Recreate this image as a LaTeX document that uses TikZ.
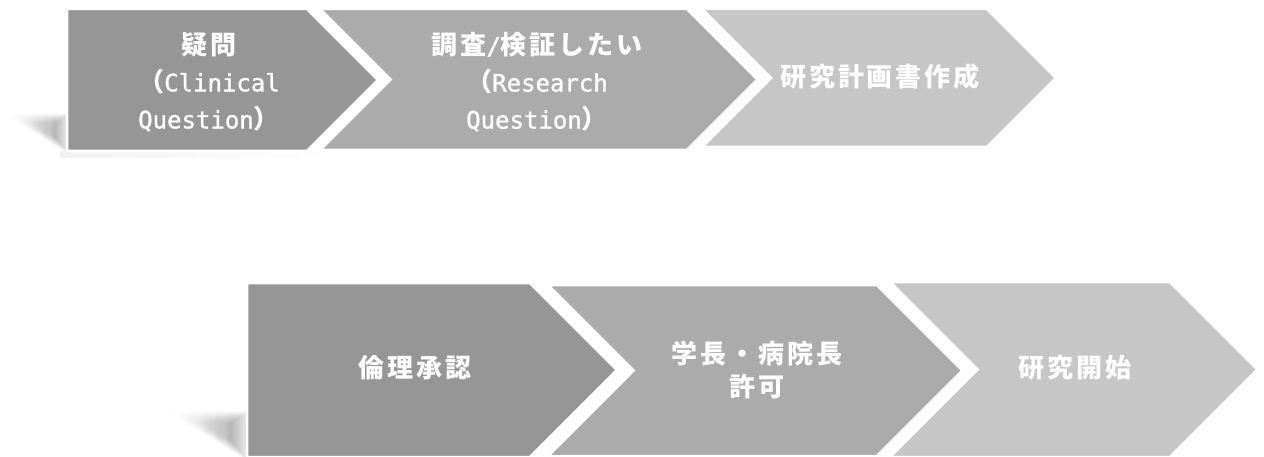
\documentclass[tikz,border=0pt]{standalone}
\usepackage{fontspec}
\usetikzlibrary{fadings}
\newfontfamily\jafont[LetterSpace=11]{Noto Sans CJK JP}
\newfontfamily\latinfont[FakeBold=1.2]{DejaVu Sans Mono}
\definecolor{chevdark}{RGB}{150,150,150}
\definecolor{chevmid}{RGB}{171,171,171}
\definecolor{chevlight}{RGB}{198,198,198}
\tikzfading[name=shadowfade, left color=transparent!100, right color=transparent!0]
\tikzfading[name=stripfade, left color=transparent!0, right color=transparent!100]
\newcommand\steptextstyle{\fontsize{26}{37}\selectfont\jafont}
\newcommand\latinpart[1]{{\fontsize{24}{37}\selectfont\mdseries\latinfont #1}}
% pentagon: left, corner, top, bottom, colour
\newcommand\homeplate[5]{
  \pgfmathsetmacro\chevmidy{(#3+#4)/2}
  \pgfmathsetmacro\chevtip{#2+(#4-#3)/2}
  \draw[chevbox=#5] (#1,#3) -- (#2,#3) -- (\chevtip,\chevmidy)
    -- (#2,#4) -- (#1,#4) -- cycle ;
}
% chevron: left, corner, top, bottom, colour
\newcommand\chevron[5]{
  \pgfmathsetmacro\chevmidy{(#3+#4)/2}
  \pgfmathsetmacro\chevtip{#2+(#4-#3)/2}
  \pgfmathsetmacro\chevnotch{#1+(#4-#3)/2}
  \draw[chevbox=#5] (#1,#3) -- (#2,#3) -- (\chevtip,\chevmidy)
    -- (#2,#4) -- (#1,#4) -- (\chevnotch,\chevmidy) -- cycle ;
}
% soft shadow left of the first step: centre, size
\newcommand\floorshadow[2]{
  \foreach \k in {0,...,15}{
    \begin{scope}[shift={#1}, scale=#2*(1.2-\k*0.05)]
      \fill[black, fill opacity=0.022, path fading=shadowfade]
        (-37,-12) -- (19,-12) -- (19,22) -- cycle ;
    \end{scope}
  }
}

\begin{document}
\begin{tikzpicture}[x=1pt, y=-1pt,
    chevbox/.style={draw=white, line width=2.5pt, fill=#1},
    steplabel/.style={text=white, align=center, inner sep=0pt,
      font=\steptextstyle\bfseries}]
  \useasboundingbox (0,0) rectangle (1264,457);
  % shadows
  \floorshadow{(47,128)}{1}
  \floorshadow{(221,429)}{1.25}
  \fill[black, fill opacity=0.05, path fading=stripfade] (60,151) rectangle (330,158);
  % upper row
  \homeplate{67}{307}{9}{151}{chevdark}
  \chevron{320}{687}{9}{150}{chevmid}
  \chevron{702}{987}{9}{147}{chevlight}
  \node[steplabel] (clinical) at (209,82)
    {疑問\\（\latinpart{Clinical}\\\latinpart{Question}）};
  \node[steplabel] (research) at (537,82)
    {調査\latinpart{/}検証したい\\（\latinpart{Research}\\\latinpart{Question}）};
  \node[steplabel] (plan) at (880,77) {研究計画書作成};
  % lower row
  \homeplate{247}{530}{283}{457}{chevdark}
  \chevron{548}{877}{285}{456}{chevmid}
  \chevron{890}{1170}{282}{457}{chevlight}
  \node[steplabel] (ethics) at (415,368) {倫理承認};
  \node[steplabel] (permit) at (757,370) {学長・病院長\\[-4pt]許可};
  \node[steplabel] (start) at (1075,368) {研究開始};
\end{tikzpicture}
\end{document}
